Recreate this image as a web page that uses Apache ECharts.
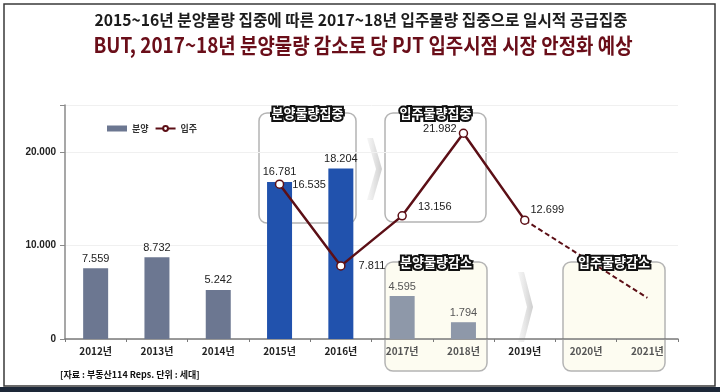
<!DOCTYPE html>
<html><head><meta charset="utf-8">
<script src="https://cdn.jsdelivr.net/npm/echarts@6/dist/echarts.min.js"></script>
<style>html,body{margin:0;padding:0;background:#fff}#c{width:720px;height:392px}</style>
</head><body><div id="c"></div>
<script>
// ---- data ----
const categories = ['2012년','2013년','2014년','2015년','2016년','2017년','2018년','2019년','2020년','2021년'];
const supplyValues = [7559, 8732, 5242, 16781, 18204, 4595, 1794, null, null, null];   // 분양
const moveInValues = [null, null, null, 16535, 7811, 13156, 21982, 12699, null, null];  // 입주
const moveInOutlookStart = ['2019년', 12699];
const moveInOutlookEnd = ['2021년', 4400];
const yTicks = [0, 10000, 20000];
const titleLine1 = '2015~16년 분양물량 집중에 따른 2017~18년 입주물량 집중으로 일시적 공급집중';
const titleLine2 = 'BUT, 2017~18년 분양물량 감소로 당 PJT 입주시점 시장 안정화 예상';
const sourceNote = '[자료 : 부동산114 Reps. 단위 : 세대]';
const boxTitles = ['분양물량집중','입주물량집중','분양물량감소','입주물량감소'];

// ---- styles ----
const FONT = '"Noto Sans CJK KR", "Noto Sans", sans-serif';
const NUMFONT = '"Liberation Sans", Arial, sans-serif';
const fmt = v => String(v).replace(/\B(?=(\d{3})+(?!\d))/g, '.');
const barColor = i => i < 3 ? '#6c7791' : (i < 5 ? '#2152ad' : '#8e98a9');
const MAROON = '#5c0f16';
const lineLabelCfg = {
  3: {position: 'right', offset: [4, 1]},
  4: {position: 'right', offset: [9, 0]},
  5: {position: 'right', offset: [7, -9]},
  6: {position: 'left', offset: [2, -4]},
  7: {position: 'right', offset: [-3, -10]}
};

const chart = echarts.init(document.getElementById('c'), null, {renderer: 'canvas'});

const boxes = [
  {x: 259, y: 113, w: 97, h: 110, fill: 'rgba(255,255,255,0)'},
  {x: 385, y: 113, w: 101, h: 109, fill: 'rgba(255,255,255,0)'},
  {x: 385, y: 262, w: 102, h: 109, fill: '#fdfcf1'},
  {x: 563, y: 262, w: 102, h: 109, fill: '#fdfcf1'}
];

const graphics = [];
// frame
graphics.push({type: 'rect', z: -10, shape: {x: 4, y: 4, width: 711, height: 382}, style: {fill: 'none', stroke: '#3a3a3a', lineWidth: 1.5}});
graphics.push({type: 'rect', z: -10, shape: {x: 0, y: 387, width: 720, height: 5}, style: {fill: '#1d2838'}});
// titles
graphics.push({type: 'text', x: 361, y: 20, scaleX: 0.98, style: {text: titleLine1, font: 'bold 16px ' + FONT, fill: '#1c1c1c', textAlign: 'center', textVerticalAlign: 'middle'}});
graphics.push({type: 'text', x: 363, y: 45, scaleX: 0.9, style: {text: titleLine2, font: 'bold 21px ' + FONT, fill: '#6a0e19', textAlign: 'center', textVerticalAlign: 'middle'}});
// boxes
boxes.forEach((b, i) => {
  graphics.push({type: 'rect', z: -5, shape: {x: b.x, y: b.y, width: b.w, height: b.h, r: 8}, style: {fill: b.fill, stroke: '#b4b4b4', lineWidth: 1.5}});
  graphics.push({type: 'text', z: 100, x: b.x + b.w / 2, y: b.y, style: {text: boxTitles[i], font: 'bold 13px ' + FONT, fill: '#ffffff', stroke: '#111', lineWidth: 4, textAlign: 'center', textVerticalAlign: 'middle'}});
});
// chevrons
function chevron(x, y, h) {
  return {type: 'polygon', z: -4, shape: {points: [[x, y], [x + 6, y], [x + 15, y + h / 2], [x + 6, y + h], [x, y + h], [x + 9, y + h / 2]]},
    style: {fill: new echarts.graphic.LinearGradient(0, 0, 1, 0, [{offset: 0, color: 'rgba(240,240,240,0.6)'}, {offset: 1, color: 'rgba(200,200,200,0.9)'}])}};
}
graphics.push(chevron(367, 138, 62));
graphics.push(chevron(518, 272, 70));
// source note
graphics.push({type: 'text', x: 60, y: 375, style: {text: sourceNote, font: 'bold 9px ' + FONT, fill: '#111', textVerticalAlign: 'middle'}});

const option = {
  animation: false,
  textStyle: {fontFamily: FONT},
  grid: {left: 65, right: 42, top: 105, bottom: 53},
  legend: {
    left: 102, top: 119, itemGap: 6, itemWidth: 20, itemHeight: 6,
    textStyle: {fontSize: 9, color: '#333', fontWeight: 'bold', fontFamily: FONT},
    data: [{name: '분양', icon: 'rect', itemStyle: {color: '#6c7791'}}, {name: '입주'}]
  },
  xAxis: {
    type: 'category', data: categories,
    axisLine: {lineStyle: {color: '#7a7a7a', width: 1.5}},
    axisTick: {show: true, length: 3, lineStyle: {color: '#7a7a7a'}},
    axisLabel: {fontSize: 10, fontWeight: 'bold', margin: 7,
      color: (v, i) => (i === 5 || i === 6 || i >= 8) ? '#555' : '#222', fontFamily: FONT}
  },
  yAxis: {
    type: 'value', min: 0, max: 25000, interval: 10000,
    axisLine: {show: true, lineStyle: {color: '#8a8a8a', width: 1.5}},
    axisTick: {show: true, length: 5, lineStyle: {color: '#8a8a8a'}},
    axisLabel: {fontSize: 10, fontWeight: 'bold', color: '#222', margin: 9, fontFamily: NUMFONT, formatter: v => yTicks.includes(v) ? fmt(v) : ''},
    splitLine: {show: true, lineStyle: {color: '#f0f0f0'}}
  },
  graphic: graphics,
  series: [
    {
      name: '분양', type: 'bar', barWidth: 25, z: 2,
      data: supplyValues.map((v, i) => ({value: v, itemStyle: {color: barColor(i)},
        label: {color: i >= 5 ? '#555' : '#222'}})),
      label: {show: true, position: 'top', distance: 4, fontSize: 11, fontFamily: NUMFONT, formatter: p => fmt(p.value)}
    },
    {
      name: '입주', type: 'line', z: 5,
      symbol: 'circle', symbolSize: 8,
      itemStyle: {color: '#ffffff', borderColor: MAROON, borderWidth: 1.5},
      lineStyle: {color: MAROON, width: 2.5},
      data: moveInValues.map((v, i) => v == null ? v : ({value: v, label: Object.assign({show: true}, lineLabelCfg[i] || {})})),
      label: {show: true, fontSize: 11, fontFamily: NUMFONT, color: '#222', distance: 4, formatter: p => fmt(p.value)},
      markLine: {
        silent: true, symbol: ['none', 'arrow'], symbolSize: [0, 12],
        lineStyle: {color: MAROON, width: 2, type: [5, 3]},
        label: {show: false},
        data: [[{coord: moveInOutlookStart}, {coord: moveInOutlookEnd}]]
      }
    }
  ]
};
chart.setOption(option);
</script>
</body></html>
